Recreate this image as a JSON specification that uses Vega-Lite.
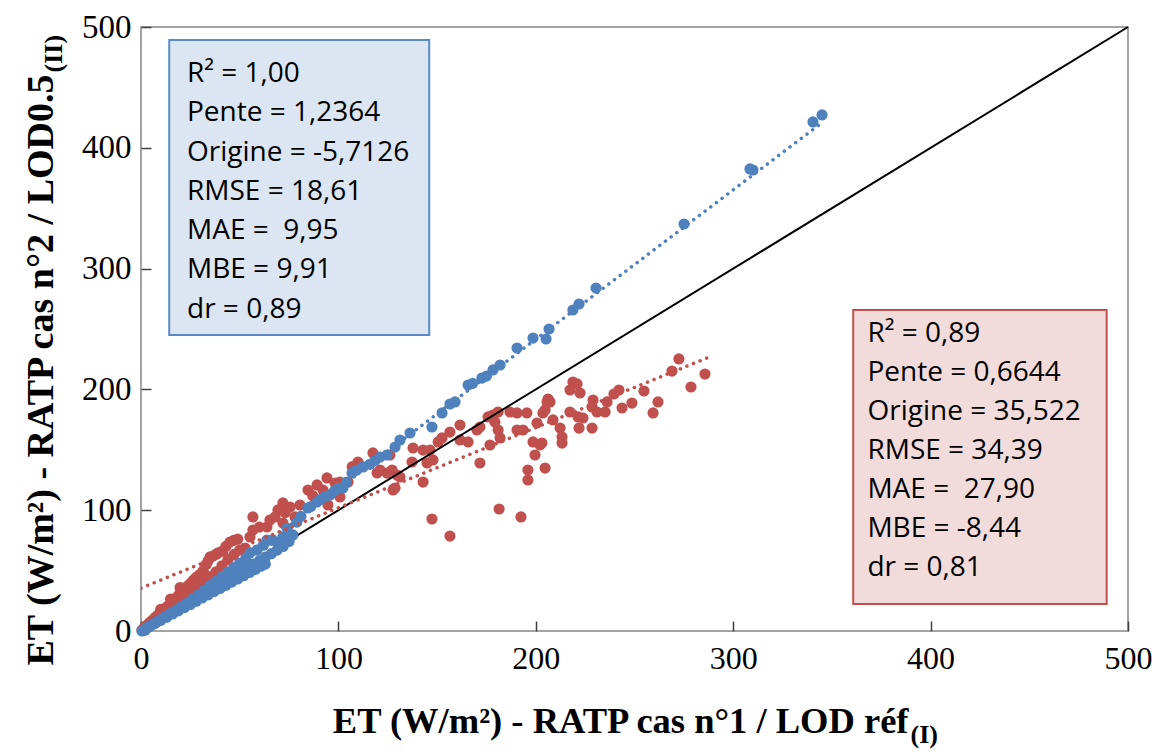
{
  "$schema": "https://vega.github.io/schema/vega-lite/v6.json",
  "width": 987,
  "height": 604,
  "autosize": {"type": "none"},
  "padding": {"left": 141, "top": 27, "right": 36, "bottom": 121},
  "background": "white",
  "config": {"view": {"stroke": "#868686", "strokeWidth": 1.5}},
  "resolve": {"axis": {"x": "independent", "y": "independent"}},
  "datasets": {
    "points": [
      {"serie": "B", "x": 0.5, "y": 0.8}, {"serie": "B", "x": 1.5, "y": 2.5}, {"serie": "B", "x": 2.5, "y": 4}, {"serie": "B", "x": 3.5, "y": 5.5}, {"serie": "B", "x": 4.5, "y": 7}, {"serie": "B", "x": 5.5, "y": 8.5}, {"serie": "B", "x": 6.5, "y": 10}, {"serie": "B", "x": 7.5, "y": 11.5}, {"serie": "B", "x": 8.5, "y": 13}, {"serie": "B", "x": 9.5, "y": 14.5}, {"serie": "B", "x": 10.5, "y": 16}, {"serie": "B", "x": 11.5, "y": 17.5}, {"serie": "B", "x": 12.5, "y": 19}, {"serie": "B", "x": 13.5, "y": 20.5}, {"serie": "B", "x": 14.5, "y": 22}, {"serie": "B", "x": 15.5, "y": 24}, {"serie": "B", "x": 16.5, "y": 25.5}, {"serie": "B", "x": 17.5, "y": 27}, {"serie": "B", "x": 18.5, "y": 28.5}, {"serie": "B", "x": 19.5, "y": 30.5}, {"serie": "B", "x": 20.5, "y": 32}, {"serie": "B", "x": 21.5, "y": 33.5}, {"serie": "B", "x": 22.5, "y": 35}, {"serie": "B", "x": 23.5, "y": 37}, {"serie": "B", "x": 24.5, "y": 38.5}, {"serie": "B", "x": 25.5, "y": 40}, {"serie": "B", "x": 26.5, "y": 42}, {"serie": "B", "x": 27.5, "y": 43.5}, {"serie": "B", "x": 28.5, "y": 45}, {"serie": "B", "x": 30, "y": 47}, {"serie": "B", "x": 31.5, "y": 50}, {"serie": "B", "x": 33, "y": 55}, {"serie": "B", "x": 34, "y": 58}, {"serie": "B", "x": 35, "y": 61.3}, {"serie": "B", "x": 36.5, "y": 62}, {"serie": "B", "x": 38, "y": 63.5}, {"serie": "B", "x": 39, "y": 64.6}, {"serie": "B", "x": 41, "y": 66}, {"serie": "B", "x": 43, "y": 70}, {"serie": "B", "x": 45.1, "y": 73.7}, {"serie": "B", "x": 47, "y": 75}, {"serie": "B", "x": 49, "y": 76},
      {"serie": "B", "x": 5, "y": 6}, {"serie": "B", "x": 8, "y": 9.5}, {"serie": "B", "x": 11, "y": 13.5}, {"serie": "B", "x": 14, "y": 17.5}, {"serie": "B", "x": 17, "y": 21}, {"serie": "B", "x": 20, "y": 25}, {"serie": "B", "x": 23, "y": 29}, {"serie": "B", "x": 26, "y": 33}, {"serie": "B", "x": 29, "y": 37}, {"serie": "B", "x": 32, "y": 41}, {"serie": "B", "x": 35, "y": 45}, {"serie": "B", "x": 38, "y": 49}, {"serie": "B", "x": 41, "y": 54}, {"serie": "B", "x": 44, "y": 59}, {"serie": "B", "x": 47, "y": 63}, {"serie": "B", "x": 50, "y": 67}, {"serie": "B", "x": 52.7, "y": 68.7},
      {"serie": "B", "x": 19.8, "y": 36}, {"serie": "B", "x": 28.4, "y": 44.7}, {"serie": "B", "x": 10, "y": 18}, {"serie": "B", "x": 15, "y": 26.5},
      {"serie": "B", "x": 55.2, "y": 77.8}, {"serie": "B", "x": 56.7, "y": 83.6}, {"serie": "B", "x": 56.7, "y": 94.4}, {"serie": "B", "x": 60, "y": 86}, {"serie": "B", "x": 63.8, "y": 86.1}, {"serie": "B", "x": 65.3, "y": 91.9}, {"serie": "B", "x": 67.9, "y": 94.4}, {"serie": "B", "x": 69.4, "y": 100.2}, {"serie": "B", "x": 71.9, "y": 106}, {"serie": "B", "x": 71.9, "y": 89.4}, {"serie": "B", "x": 73, "y": 98}, {"serie": "B", "x": 75.5, "y": 102.6}, {"serie": "B", "x": 78, "y": 94.4}, {"serie": "B", "x": 80.5, "y": 104.3}, {"serie": "B", "x": 84.6, "y": 116.7}, {"serie": "B", "x": 87, "y": 112}, {"serie": "B", "x": 89.2, "y": 120.9}, {"serie": "B", "x": 92.2, "y": 116.7}, {"serie": "B", "x": 94.2, "y": 126.7}, {"serie": "B", "x": 94.7, "y": 104.3}, {"serie": "B", "x": 98.3, "y": 122.5}, {"serie": "B", "x": 100.8, "y": 123.3}, {"serie": "B", "x": 100.8, "y": 110.9}, {"serie": "B", "x": 104.9, "y": 123.3}, {"serie": "B", "x": 107, "y": 136}, {"serie": "B", "x": 109.9, "y": 139.9}, {"serie": "B", "x": 117.5, "y": 147.4}, {"serie": "B", "x": 119.6, "y": 130.8}, {"serie": "B", "x": 124.6, "y": 130.8}, {"serie": "B", "x": 126.1, "y": 145.7}, {"serie": "B", "x": 127.7, "y": 116.7}, {"serie": "B", "x": 129.7, "y": 129.1},
      {"serie": "B", "x": 205.7, "y": 189.6}, {"serie": "B", "x": 203.6, "y": 180.5}, {"serie": "B", "x": 200.6, "y": 172.2}, {"serie": "B", "x": 195.5, "y": 180.5}, {"serie": "B", "x": 190.5, "y": 180.5}, {"serie": "B", "x": 186.9, "y": 181.3}, {"serie": "B", "x": 180.9, "y": 181.3}, {"serie": "B", "x": 178.3, "y": 178.8}, {"serie": "B", "x": 175.8, "y": 177.2}, {"serie": "B", "x": 179.3, "y": 173}, {"serie": "B", "x": 180.9, "y": 166.4}, {"serie": "B", "x": 171.7, "y": 168.9}, {"serie": "B", "x": 170.2, "y": 166.4}, {"serie": "B", "x": 176.8, "y": 154}, {"serie": "B", "x": 181.9, "y": 159.8}, {"serie": "B", "x": 190.5, "y": 166.4}, {"serie": "B", "x": 193.5, "y": 166.4}, {"serie": "B", "x": 198.6, "y": 156.5}, {"serie": "B", "x": 202.1, "y": 154}, {"serie": "B", "x": 199.6, "y": 145.7}, {"serie": "B", "x": 196, "y": 133.3}, {"serie": "B", "x": 196, "y": 125}, {"serie": "B", "x": 204.7, "y": 134.9}, {"serie": "B", "x": 171.7, "y": 139.1}, {"serie": "B", "x": 161.6, "y": 170.5}, {"serie": "B", "x": 156.5, "y": 164.7}, {"serie": "B", "x": 152.5, "y": 159.8}, {"serie": "B", "x": 150.5, "y": 156.5}, {"serie": "B", "x": 161.6, "y": 158.1}, {"serie": "B", "x": 165.7, "y": 156.5}, {"serie": "B", "x": 146.4, "y": 149.8}, {"serie": "B", "x": 147.9, "y": 141.6}, {"serie": "B", "x": 142.9, "y": 149.8}, {"serie": "B", "x": 137.8, "y": 151.5}, {"serie": "B", "x": 137.3, "y": 139.9}, {"serie": "B", "x": 144.9, "y": 139.1}, {"serie": "B", "x": 127.2, "y": 133.3}, {"serie": "B", "x": 131.2, "y": 127.5}, {"serie": "B", "x": 121.1, "y": 133.3}, {"serie": "B", "x": 142.9, "y": 123.3}, {"serie": "B", "x": 128.7, "y": 118.4},
      {"serie": "B", "x": 147.4, "y": 92.7}, {"serie": "B", "x": 156.5, "y": 78.6}, {"serie": "B", "x": 181.4, "y": 101}, {"serie": "B", "x": 192.5, "y": 94.4},
      {"serie": "B", "x": 272.5, "y": 225.2}, {"serie": "B", "x": 269, "y": 215.2}, {"serie": "B", "x": 285.7, "y": 212.7}, {"serie": "B", "x": 278.6, "y": 202}, {"serie": "B", "x": 254.8, "y": 198.7}, {"serie": "B", "x": 261.9, "y": 189.6}, {"serie": "B", "x": 259.4, "y": 180.5}, {"serie": "B", "x": 242.1, "y": 199.5}, {"serie": "B", "x": 239.6, "y": 196.2}, {"serie": "B", "x": 236.1, "y": 189.6}, {"serie": "B", "x": 248.7, "y": 188.7}, {"serie": "B", "x": 243.7, "y": 184.6}, {"serie": "B", "x": 235.1, "y": 181.3}, {"serie": "B", "x": 229, "y": 191.2}, {"serie": "B", "x": 228.5, "y": 185.4}, {"serie": "B", "x": 231, "y": 181.3}, {"serie": "B", "x": 218.8, "y": 206.1}, {"serie": "B", "x": 217.3, "y": 199.5}, {"serie": "B", "x": 222.4, "y": 197}, {"serie": "B", "x": 217.3, "y": 181.3}, {"serie": "B", "x": 221.4, "y": 177.2}, {"serie": "B", "x": 223.9, "y": 176.3}, {"serie": "B", "x": 221.9, "y": 168}, {"serie": "B", "x": 228.5, "y": 168}, {"serie": "B", "x": 207.2, "y": 189.6}, {"serie": "B", "x": 204.7, "y": 183}, {"serie": "B", "x": 208.7, "y": 174.7}, {"serie": "B", "x": 212.3, "y": 168}, {"serie": "B", "x": 213.3, "y": 160.6}, {"serie": "B", "x": 213.3, "y": 155.6}, {"serie": "B", "x": 203.1, "y": 155.6}, {"serie": "B", "x": 220.9, "y": 204.5}, {"serie": "B", "x": 206.2, "y": 192},

      {"serie": "A", "x": 0.5, "y": 0}, {"serie": "A", "x": 2, "y": 0.5},
      {"serie": "A", "x": 5, "y": 4.5}, {"serie": "A", "x": 8, "y": 7.5}, {"serie": "A", "x": 11, "y": 10.5}, {"serie": "A", "x": 14, "y": 13.5}, {"serie": "A", "x": 17, "y": 16}, {"serie": "A", "x": 20, "y": 19.5}, {"serie": "A", "x": 23, "y": 22.7}, {"serie": "A", "x": 26, "y": 26.4}, {"serie": "A", "x": 29, "y": 30.1}, {"serie": "A", "x": 32, "y": 33.8}, {"serie": "A", "x": 35, "y": 37.6}, {"serie": "A", "x": 38, "y": 41.3}, {"serie": "A", "x": 41, "y": 45}, {"serie": "A", "x": 44, "y": 48.7}, {"serie": "A", "x": 47, "y": 52.4}, {"serie": "A", "x": 50, "y": 56.1}, {"serie": "A", "x": 53, "y": 59.8}, {"serie": "A", "x": 55.2, "y": 64.6}, {"serie": "A", "x": 58.8, "y": 67}, {"serie": "A", "x": 62, "y": 71}, {"serie": "A", "x": 63.8, "y": 75.3}, {"serie": "A", "x": 66, "y": 75}, {"serie": "A", "x": 68.9, "y": 73.7}, {"serie": "A", "x": 71.9, "y": 77.8}, {"serie": "A", "x": 74, "y": 85}, {"serie": "A", "x": 77, "y": 79.5}, {"serie": "A", "x": 79, "y": 90.2},
      {"serie": "A", "x": 3, "y": 2.9}, {"serie": "A", "x": 6, "y": 5.8}, {"serie": "A", "x": 9, "y": 8.7}, {"serie": "A", "x": 12, "y": 11.6}, {"serie": "A", "x": 15, "y": 14.6}, {"serie": "A", "x": 18, "y": 17.5}, {"serie": "A", "x": 21, "y": 20.4}, {"serie": "A", "x": 24, "y": 23.3}, {"serie": "A", "x": 27, "y": 26.2}, {"serie": "A", "x": 30, "y": 29.1}, {"serie": "A", "x": 33, "y": 32}, {"serie": "A", "x": 36, "y": 35}, {"serie": "A", "x": 39, "y": 37.8}, {"serie": "A", "x": 42, "y": 40.7}, {"serie": "A", "x": 45, "y": 43.7}, {"serie": "A", "x": 48, "y": 46.6}, {"serie": "A", "x": 51, "y": 49.5}, {"serie": "A", "x": 54, "y": 52.4}, {"serie": "A", "x": 57, "y": 55.3}, {"serie": "A", "x": 60, "y": 58.2}, {"serie": "A", "x": 63, "y": 61.1}, {"serie": "A", "x": 66, "y": 64}, {"serie": "A", "x": 69, "y": 67}, {"serie": "A", "x": 72, "y": 70}, {"serie": "A", "x": 75, "y": 74},
      {"serie": "A", "x": 4, "y": 3.5}, {"serie": "A", "x": 7, "y": 6.2}, {"serie": "A", "x": 10, "y": 8.8}, {"serie": "A", "x": 13, "y": 11.4}, {"serie": "A", "x": 16, "y": 14.1}, {"serie": "A", "x": 19, "y": 16.7}, {"serie": "A", "x": 22, "y": 19.4}, {"serie": "A", "x": 25, "y": 22}, {"serie": "A", "x": 28, "y": 24.6}, {"serie": "A", "x": 31, "y": 27.3}, {"serie": "A", "x": 34, "y": 29.9}, {"serie": "A", "x": 37, "y": 32.6}, {"serie": "A", "x": 40, "y": 35.2}, {"serie": "A", "x": 43, "y": 37.8}, {"serie": "A", "x": 46, "y": 40.5}, {"serie": "A", "x": 49, "y": 43.1}, {"serie": "A", "x": 52, "y": 45.8}, {"serie": "A", "x": 55, "y": 48.4}, {"serie": "A", "x": 58, "y": 51}, {"serie": "A", "x": 61, "y": 53.7}, {"serie": "A", "x": 63, "y": 55.4},
      {"serie": "A", "x": 81, "y": 95}, {"serie": "A", "x": 84.6, "y": 101.8}, {"serie": "A", "x": 86, "y": 103}, {"serie": "A", "x": 89.2, "y": 106.8}, {"serie": "A", "x": 91, "y": 109}, {"serie": "A", "x": 93, "y": 111}, {"serie": "A", "x": 95.7, "y": 112.6}, {"serie": "A", "x": 98, "y": 116}, {"serie": "A", "x": 100, "y": 118}, {"serie": "A", "x": 102.3, "y": 118.4}, {"serie": "A", "x": 104, "y": 123}, {"serie": "A", "x": 106.9, "y": 130.8}, {"serie": "A", "x": 109, "y": 133}, {"serie": "A", "x": 112.5, "y": 135.8}, {"serie": "A", "x": 116, "y": 138}, {"serie": "A", "x": 118.5, "y": 141}, {"serie": "A", "x": 121.1, "y": 144}, {"serie": "A", "x": 124.6, "y": 145.7}, {"serie": "A", "x": 128.7, "y": 152.3}, {"serie": "A", "x": 131.2, "y": 158.1}, {"serie": "A", "x": 136.3, "y": 163.9}, {"serie": "A", "x": 147.4, "y": 168.9}, {"serie": "A", "x": 152.5, "y": 180.5}, {"serie": "A", "x": 156.5, "y": 187.9}, {"serie": "A", "x": 159.1, "y": 189.6}, {"serie": "A", "x": 165.7, "y": 203.6}, {"serie": "A", "x": 168, "y": 205}, {"serie": "A", "x": 172.7, "y": 209.4}, {"serie": "A", "x": 175, "y": 211}, {"serie": "A", "x": 178.3, "y": 216.1}, {"serie": "A", "x": 181.9, "y": 220.2}, {"serie": "A", "x": 190.5, "y": 234.3}, {"serie": "A", "x": 198.6, "y": 242.5}, {"serie": "A", "x": 205.2, "y": 241.7}, {"serie": "A", "x": 206.7, "y": 250}, {"serie": "A", "x": 218.8, "y": 265.7}, {"serie": "A", "x": 221.9, "y": 270.7}, {"serie": "A", "x": 230.5, "y": 283.9}, {"serie": "A", "x": 275.1, "y": 336.9}, {"serie": "A", "x": 308.5, "y": 382.5}, {"serie": "A", "x": 310, "y": 381.6}, {"serie": "A", "x": 340.4, "y": 421.4}, {"serie": "A", "x": 345, "y": 427.2}
    ],
    "trend": [
      {"serie": "A", "x": 4.62, "y": 0},
      {"serie": "A", "x": 345, "y": 420.8},
      {"serie": "B", "x": 0, "y": 35.5},
      {"serie": "B", "x": 287, "y": 226.2}
    ],
    "stats": [
      {"serie": "A", "lignes": ["R² = 1,00", "Pente = 1,2364", "Origine = -5,7126", "RMSE = 18,61", "MAE = \u00a09,95", "MBE = 9,91", "dr = 0,89"]},
      {"serie": "B", "lignes": ["R² = 0,89", "Pente = 0,6644", "Origine = 35,522", "RMSE = 34,39", "MAE = \u00a027,90", "MBE = -8,44", "dr = 0,81"]}
    ]
  },
  "layer": [
    {
      "data": {"name": "points"},
      "transform": [{"filter": "datum.serie === 'B'"}],
      "mark": {"type": "circle", "size": 125, "opacity": 1, "color": "#C0504D"},
      "encoding": {
        "x": {"field": "x", "type": "quantitative", "scale": {"domain": [0, 500], "nice": false},
          "axis": {"orient": "bottom", "title": "ET (W/m²) - RATP cas n°1 / LOD réf", "values": [0, 100, 200, 300, 400, 500], "grid": false, "domain": false, "tickSize": -10, "tickColor": "#404040", "tickWidth": 1.5, "labelFont": "Liberation Serif", "labelFontSize": 32, "labelColor": "#000000", "labelPadding": 22, "labelFlush": false, "labelOverlap": false, "titleFont": "Liberation Serif", "titleFontSize": 36.5, "titleFontWeight": "bold", "titleColor": "#000000", "titleAlign": "right", "titleBaseline": "alphabetic", "titleX": 767, "titleY": 101}},
        "y": {"field": "y", "type": "quantitative", "scale": {"domain": [0, 500], "nice": false},
          "axis": {"orient": "left", "title": "ET (W/m²) - RATP cas n°2 / LOD0.5", "values": [0, 100, 200, 300, 400, 500], "grid": false, "domain": false, "tickSize": -10, "tickColor": "#404040", "tickWidth": 1.5, "labelFont": "Liberation Serif", "labelFontSize": 33, "labelColor": "#000000", "labelPadding": 20, "labelFlush": false, "labelOverlap": false, "titleFont": "Liberation Serif", "titleFontSize": 38, "titleFontWeight": "bold", "titleColor": "#000000", "titleAngle": 270, "titleAlign": "right", "titleBaseline": "alphabetic", "titleX": -89, "titleY": 47}}
      }
    },
    {
      "data": {"values": [{}]},
      "mark": {"type": "rule", "color": "#000000", "strokeWidth": 2},
      "encoding": {
        "x": {"datum": 0, "type": "quantitative", "scale": {"domain": [0, 500], "nice": false}, "axis": null},
        "y": {"datum": 0, "type": "quantitative", "scale": {"domain": [0, 500], "nice": false}, "axis": null},
        "x2": {"datum": 500},
        "y2": {"datum": 500}
      }
    },
    {
      "data": {"name": "points"},
      "transform": [{"filter": "datum.serie === 'A'"}],
      "mark": {"type": "circle", "size": 125, "opacity": 1, "color": "#4F81BD"},
      "encoding": {
        "x": {"field": "x", "type": "quantitative", "scale": {"domain": [0, 500], "nice": false}, "axis": null},
        "y": {"field": "y", "type": "quantitative", "scale": {"domain": [0, 500], "nice": false}, "axis": null}
      }
    },
    {
      "data": {"name": "trend"},
      "mark": {"type": "line", "strokeWidth": 3.5, "strokeDash": [0.1, 7], "strokeCap": "round", "clip": true},
      "encoding": {
        "x": {"field": "x", "type": "quantitative", "scale": {"domain": [0, 500], "nice": false}, "axis": null},
        "y": {"field": "y", "type": "quantitative", "scale": {"domain": [0, 500], "nice": false}, "axis": null},
        "color": {"field": "serie", "type": "nominal", "scale": {"domain": ["A", "B"], "range": ["#4F81BD", "#C0504D"]}, "legend": null}
      }
    },
    {
      "data": {"values": [{}]},
      "mark": {"type": "rect", "fill": "#DCE6F2", "stroke": "#5B8BC7", "strokeWidth": 2},
      "encoding": {
        "x": {"datum": 14.3, "type": "quantitative", "scale": {"domain": [0, 500], "nice": false}, "axis": null},
        "x2": {"datum": 146},
        "y": {"datum": 489.2, "type": "quantitative", "scale": {"domain": [0, 500], "nice": false}, "axis": null},
        "y2": {"datum": 245}
      }
    },
    {
      "data": {"values": [{}]},
      "mark": {"type": "rect", "fill": "#F2DCDB", "stroke": "#C0504D", "strokeWidth": 2},
      "encoding": {
        "x": {"datum": 360.8, "type": "quantitative", "scale": {"domain": [0, 500], "nice": false}, "axis": null},
        "x2": {"datum": 489.2},
        "y": {"datum": 265.7, "type": "quantitative", "scale": {"domain": [0, 500], "nice": false}, "axis": null},
        "y2": {"datum": 22.4}
      }
    },
    {
      "data": {"name": "stats"},
      "transform": [{"filter": "datum.serie === 'A'"}],
      "mark": {"type": "text", "font": "Open Sans", "fontSize": 28, "align": "left", "baseline": "alphabetic", "lineHeight": 39.3, "color": "#000000"},
      "encoding": {
        "x": {"datum": 23.3, "type": "quantitative", "scale": {"domain": [0, 500], "nice": false},
          "axis": {"orient": "bottom", "title": "(I)", "labels": false, "ticks": false, "domain": false, "grid": false, "titleFont": "Liberation Serif", "titleFontSize": 26, "titleFontWeight": "bold", "titleColor": "#000000", "titleAlign": "left", "titleBaseline": "alphabetic", "titleX": 769, "titleY": 111}},
        "y": {"datum": 454.5, "type": "quantitative", "scale": {"domain": [0, 500], "nice": false},
          "axis": {"orient": "left", "title": "(II)", "labels": false, "ticks": false, "domain": false, "grid": false, "titleFont": "Liberation Serif", "titleFontSize": 26, "titleFontWeight": "bold", "titleColor": "#000000", "titleAngle": 270, "titleAlign": "left", "titleBaseline": "alphabetic", "titleX": -80, "titleY": 45}},
        "text": {"field": "lignes"}
      }
    },
    {
      "data": {"name": "stats"},
      "transform": [{"filter": "datum.serie === 'B'"}],
      "mark": {"type": "text", "font": "Open Sans", "fontSize": 28, "align": "left", "baseline": "alphabetic", "lineHeight": 39.0, "color": "#000000"},
      "encoding": {
        "x": {"datum": 368, "type": "quantitative", "scale": {"domain": [0, 500], "nice": false}, "axis": null},
        "y": {"datum": 239.2, "type": "quantitative", "scale": {"domain": [0, 500], "nice": false}, "axis": null},
        "text": {"field": "lignes"}
      }
    }
  ]
}
